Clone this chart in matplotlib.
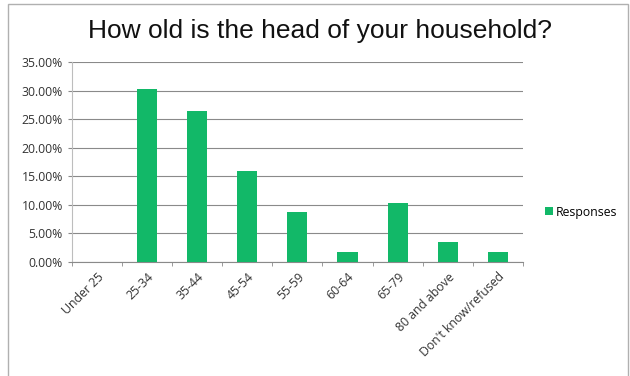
import matplotlib.pyplot as plt
import numpy as np
from matplotlib.patches import Rectangle
from matplotlib.ticker import FuncFormatter

# data
categories = ['Under 25', '25-34', '35-44', '45-54', '55-59', '60-64',
              '65-79', '80 and above', "Don't know/refused"]
responses = [0.0, 30.2, 26.5, 15.9, 8.7, 1.7, 10.4, 3.5, 1.7]
y_ticks = [0, 5, 10, 15, 20, 25, 30, 35]

green = '#12b868'
grid_col = '#8a8a8a'
font = 'Open Sans'

fig = plt.figure(figsize=(6.3, 3.76), dpi=100)
ax = fig.add_axes([0.114, 0.303, 0.716, 0.532])

x = np.arange(len(categories))
ax.bar(x, responses, width=0.4, color=green, label='Responses', zorder=3)

ax.set_xlim(-0.5, len(categories) - 0.5)
ax.set_ylim(0, 35)
ax.set_yticks(y_ticks)
ax.yaxis.set_major_formatter(FuncFormatter(lambda v, p: '%.2f%%' % v))
ax.grid(axis='y', color=grid_col, linewidth=0.8, zorder=0)

ax.set_xticks(x)
ax.set_xticklabels(categories, rotation=45, ha='right', rotation_mode='anchor',
                   fontsize=8.8, family=font, color='#333333')
ax.set_xticks(np.arange(-0.5, len(categories)), minor=True)
ax.tick_params(axis='x', which='major', length=0, pad=6)
ax.tick_params(axis='x', which='minor', length=3, color=grid_col)
ax.tick_params(axis='y', length=3, color=grid_col, labelsize=8.8, labelcolor='#333333')
for lab in ax.get_yticklabels():
    lab.set_family(font)

for s in ['top', 'right']:
    ax.spines[s].set_visible(False)
ax.spines['left'].set_color('#bdbdbd')
ax.spines['bottom'].set_color(grid_col)

fig.text(0.508, 0.918, 'How old is the head of your household?', ha='center',
         va='center', fontsize=19, family='Liberation Sans', color='#111111')

leg = ax.legend(loc='center left', bbox_to_anchor=(1.025, 0.25), frameon=False,
                handlelength=0.6, handleheight=0.6, handletextpad=0.3,
                prop={'family': font, 'size': 8.8})

# chart border
fig.patches.append(Rectangle((0.012, -0.01), 0.985, 1.0, transform=fig.transFigure,
                             fill=False, edgecolor='#b0b0b0', linewidth=1))

fig.savefig('out.png', dpi=100)
